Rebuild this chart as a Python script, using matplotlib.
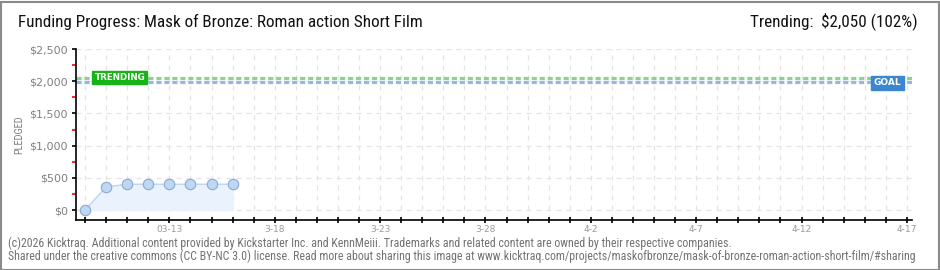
import matplotlib
matplotlib.use("Agg")
import matplotlib.pyplot as plt
import matplotlib.dates as mdates
import pandas as pd
from matplotlib.patches import Rectangle
from matplotlib.ticker import FixedLocator
import matplotlib.transforms as mtransforms
from matplotlib import font_manager

# pick a narrow font if one exists
names = {f.name for f in font_manager.fontManager.ttflist}
narrow = None
for cand in ["Liberation Sans Narrow", "DejaVu Sans Condensed", "Roboto Condensed", "Open Sans Condensed"]:
    if cand in names:
        narrow = cand
        break
title_family = [narrow, "DejaVu Sans"] if narrow else ["DejaVu Sans"]
plt.rcParams['font.family'] = ['DejaVu Sans']

# ---- data ----
dates = ["2026-03-09", "2026-03-10", "2026-03-11", "2026-03-12",
         "2026-03-13", "2026-03-14", "2026-03-15", "2026-03-16"]
pledged = [0, 360, 400, 400, 400, 400, 400, 400]
goal = 2000
trending = 2050
x_start = "2026-03-09"
x_end = "2026-04-17"
tick_dates = ["2026-03-13", "2026-03-18", "2026-03-23", "2026-03-28",
              "2026-04-02", "2026-04-07", "2026-04-12", "2026-04-17"]
tick_labels = ["03-13", "3-18", "3-23", "3-28", "4-2", "4-7", "4-12", "4-17"]
title = "Funding Progress: Mask of Bronze: Roman action Short Film"
trend_text = "Trending:  $2,050 (102%)"
footer1 = "(c)2026 Kicktraq. Additional content provided by Kickstarter Inc. and KennMeiii. Trademarks and related content are owned by their respective companies."
footer2 = "Shared under the creative commons (CC BY-NC 3.0) license. Read more about sharing this image at www.kicktraq.com/projects/maskofbronze/mask-of-bronze-roman-action-short-film/#sharing"

W, H = 940, 270
fig = plt.figure(figsize=(W / 100, H / 100), dpi=100)
fig.patch.set_facecolor("white")

# border
fig.add_artist(Rectangle((0.5 / W, 0.5 / H), 1 - 2.0 / W, 1 - 2.0 / H, transform=fig.transFigure,
                         fill=False, edgecolor="#8a8a8a", linewidth=1.5))

left, right, top, bottom = 76, 912, 49, 220
ax = fig.add_axes([left / W, (H - bottom) / H, (right - left) / W, (bottom - top) / H])

x = pd.to_datetime(dates)
xs = mdates.date2num(pd.to_datetime(x_start))
xe = mdates.date2num(pd.to_datetime(x_end))
ax.set_xlim(xs - 0.43, xe + 0.24)
ax.set_ylim(-155, 2500)

# grid
day_ticks = [xs + i for i in range(int(xe - xs) + 1)]
for d in day_ticks:
    ax.axvline(d, color="#e4e4e4", lw=0.9, ls=(0, (4, 4)), zorder=0)
for yv in range(0, 2501, 500):
    ax.axhline(yv, color="#e4e4e4", lw=0.9, ls=(0, (4, 4)), zorder=0)

# goal / trending lines
ax.axhline(trending + 5, color="#8ed28e", lw=2.3, ls=(0, (1.6, 0.9)), zorder=2)
ax.axhline(goal - 15, color="#95b8e3", lw=2.3, ls=(0, (1.6, 0.9)), zorder=2)

# data
xn = mdates.date2num(x)
ax.fill_between(xn, pledged, 0, color="#eaf3fd", zorder=1)
ax.plot(xn, pledged, color="#bcd6f2", lw=1, zorder=3)
ax.plot(xn, pledged, ls="none", marker="o", ms=7.5, mfc="#bcd8f6", mec="#8ea9c8", mew=0.8, zorder=4)

# labels boxes
blend = mtransforms.blended_transform_factory(ax.transAxes, ax.transData)
ax.text(0.0525, trending + 5, "TRENDING", transform=blend, ha="center", va="center",
        fontsize=6.3, color="white", fontweight="bold",
        bbox=dict(boxstyle="square,pad=0.25", fc="#17b417", ec="#17b417"), zorder=5)
ax.text(0.971, goal - 25, "GOAL", transform=blend, ha="center", va="center",
        fontsize=6.5, color="white", fontweight="bold",
        bbox=dict(boxstyle="square,pad=0.3", fc="#3a86cf", ec="#3a86cf"), zorder=5)

# spines & ticks
for s in ["top", "right"]:
    ax.spines[s].set_visible(False)
ax.spines["left"].set_linewidth(1.2)
ax.spines["bottom"].set_linewidth(1.2)

ax.set_yticks(list(range(0, 2501, 500)))
ax.yaxis.set_minor_locator(FixedLocator([250, 750, 1250, 1750, 2250]))
ax.set_yticklabels([f"${v:,}" for v in range(0, 2501, 500)], fontsize=8, color="#808080")
ax.tick_params(axis="y", which="major", length=3, width=1.2, color="black", pad=3)
ax.tick_params(axis="y", which="minor", length=3, width=1.2, color="red")

ax.set_xticks(day_ticks)
lbl_map = {mdates.date2num(pd.to_datetime(d)): l for d, l in zip(tick_dates, tick_labels)}
ax.set_xticklabels([lbl_map.get(d, "") for d in day_ticks], fontsize=6.5, color="#9a9a9a")
ax.tick_params(axis="x", direction="inout", length=5, width=1.2, color="black", pad=1)

ax.set_ylabel("PLEDGED", fontsize=7.5, color="#808080", family=title_family,
              fontstretch="condensed")
ax.yaxis.set_label_coords(-52 / (right - left), 0.5)
ax.patch.set_alpha(0)

# titles
fig.text(18 / W, 1 - 22 / H, title, fontsize=12.3, color="#111111", va="center", ha="left",
         family=title_family, fontstretch="condensed")
fig.text(918 / W, 1 - 21 / H, trend_text, fontsize=12.3, color="#111111", va="center", ha="right",
         family=title_family, fontstretch="condensed")

# footer
fig.text(8 / W, 1 - 243 / H, footer1, fontsize=8.55, color="#727272", va="center", ha="left",
         family=title_family, fontstretch="condensed")
fig.text(8 / W, 1 - 256 / H, footer2, fontsize=8.55, color="#727272", va="center", ha="left",
         family=title_family, fontstretch="condensed")

fig.savefig("out.png", dpi=100, facecolor="white")
